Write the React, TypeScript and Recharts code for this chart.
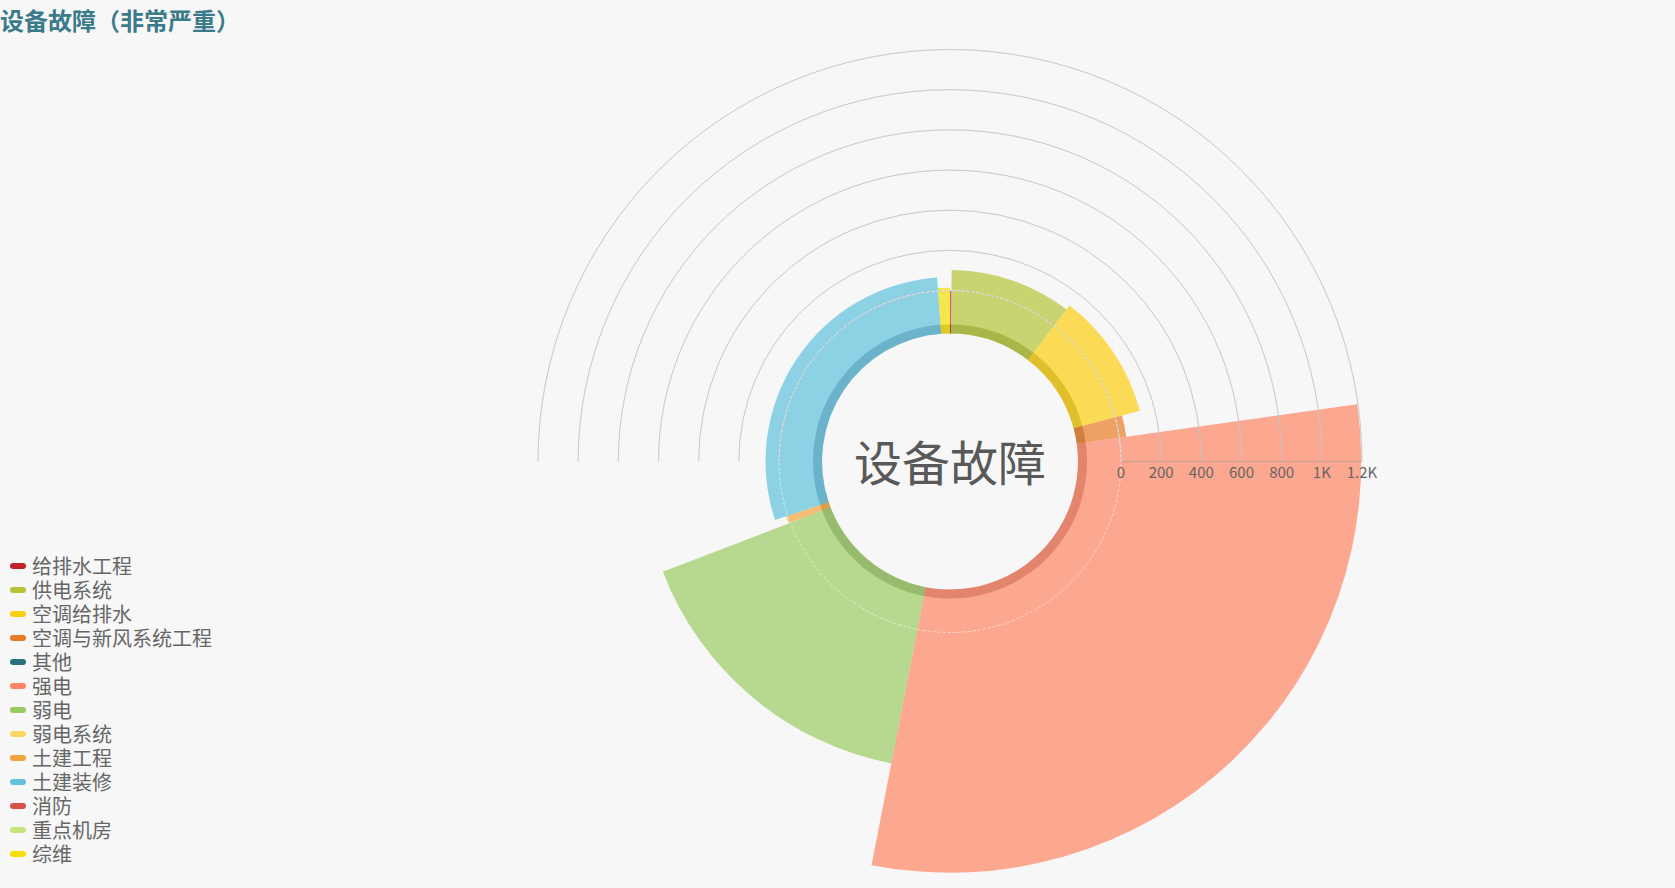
import { PieChart, Pie, Cell, Sector, PolarRadiusAxis } from "recharts";

const categories = [
  "给排水工程",
  "供电系统",
  "空调给排水",
  "空调与新风系统工程",
  "其他",
  "强电",
  "弱电",
  "弱电系统",
  "土建工程",
  "土建装修",
  "消防",
  "重点机房",
  "综维",
];
// angle share of each slice
const counts = [1, 74, 75, 14, 0, 218, 116, 0, 5, 209, 0, 0, 8];
// radial value of each slice (read against the 0 - 1.2K axis)
const levels = [2, 102, 127, 35, 0, 1196, 680, 0, 8, 67, 0, 0, 14];
const colors = [
  "#C1232B", "#B5C334", "#FCCE10", "#E87C25", "#27727B", "#FE8463", "#9BCA63",
  "#FAD860", "#F3A43B", "#60C0DD", "#D7504B", "#C6E579", "#F4E001",
];
const radiusTicks = [0, 200, 400, 600, 800, 1000, 1200];
const tickLabels = ["0", "200", "400", "600", "800", "1K", "1.2K"];

const data = categories.map((name, i) => ({ name, count: counts[i], level: levels[i] }));
const arcData = [{ v: 1 }];

const W = 1675;
const H = 888;
const CX = 950;
const CY = 461.5;
const R_HOLE = 128;
const R_RING = 137;
const R_ZERO = 171;
const R_MAX = 412;
const AXIS_MAX = 1200;
const FONT = "'Noto Sans CJK SC', 'Noto Sans', sans-serif";

const toRadius = (v: number) => R_ZERO + (v / AXIS_MAX) * (R_MAX - R_ZERO);

const RoseSector = (props: any) => {
  const lvl = props.payload?.level ?? props.level ?? 0;
  return <Sector {...props} outerRadius={toRadius(lvl)} />;
};

const AxisTick = (props: any) => {
  const { x, y, payload } = props;
  const idx = radiusTicks.indexOf(payload.value);
  return (
    <text x={x} y={y + 16} textAnchor="middle" fill="#666" fontSize={15} fontFamily={FONT}>
      {idx >= 0 ? tickLabels[idx] : payload.value}
    </text>
  );
};

export default function App() {
  return (
    <div
      style={{
        position: "absolute",
        left: 0,
        top: 0,
        width: W,
        height: H,
        background: "#f7f7f7",
        fontFamily: FONT,
        overflow: "hidden",
      }}
    >
      <div
        style={{
          position: "absolute",
          left: 0,
          top: 0,
          lineHeight: "40px",
          fontSize: 24,
          fontWeight: "bold",
          color: "#3b7b89",
          whiteSpace: "nowrap",
        }}
      >
        设备故障（非常严重）
      </div>

      <PieChart
        width={W}
        height={H}
        margin={{ top: 0, right: 0, bottom: 0, left: 0 }}
        cx={CX}
        cy={CY}
        innerRadius={R_ZERO}
        outerRadius={R_MAX}
      >
        {/* rose slices: angle from count, radius from level */}
        <Pie
          data={data}
          dataKey="count"
          nameKey="name"
          cx={CX}
          cy={CY}
          startAngle={90}
          endAngle={-270}
          innerRadius={R_HOLE}
          outerRadius={R_MAX}
          stroke="none"
          shape={RoseSector}
          activeShape={RoseSector}
          inactiveShape={RoseSector}
          isAnimationActive={false}
        >
          {data.map((d, i) => (
            <Cell key={d.name} fill={colors[i]} fillOpacity={0.7} />
          ))}
        </Pie>
        {/* inner darker ring */}
        <Pie
          data={data}
          dataKey="count"
          nameKey="name"
          cx={CX}
          cy={CY}
          startAngle={90}
          endAngle={-270}
          innerRadius={R_HOLE}
          outerRadius={R_RING}
          stroke="none"
          legendType="none"
          isAnimationActive={false}
        >
          {data.map((d, i) => (
            <Cell key={d.name} fill={colors[i]} fillOpacity={0.5} />
          ))}
        </Pie>
        <Pie
          data={data}
          dataKey="count"
          nameKey="name"
          cx={CX}
          cy={CY}
          startAngle={90}
          endAngle={-270}
          innerRadius={R_HOLE}
          outerRadius={R_RING}
          stroke="none"
          fill="#000"
          fillOpacity={0.1}
          legendType="none"
          isAnimationActive={false}
        />
        {radiusTicks.map((t) => (
          <Pie
            key={"grid" + t}
            data={arcData}
            dataKey="v"
            cx={CX}
            cy={CY}
            startAngle={180}
            endAngle={0}
            innerRadius={toRadius(t)}
            outerRadius={toRadius(t)}
            fill="none"
            stroke="#c4c4c4"
            strokeOpacity={0.6}
            strokeWidth={1}
            legendType="none"
            isAnimationActive={false}
          />
        ))}
        <Pie
          data={arcData}
          dataKey="v"
          cx={CX}
          cy={CY}
          startAngle={180}
          endAngle={-180}
          innerRadius={R_ZERO}
          outerRadius={R_ZERO}
          fill="none"
          stroke="#fff"
          strokeOpacity={0.3}
          strokeDasharray="3 2"
          legendType="none"
          isAnimationActive={false}
        />
        <PolarRadiusAxis
          angle={0}
          type="number"
          domain={[0, AXIS_MAX]}
          tickCount={7}
          axisLine={{ stroke: "#999", strokeOpacity: 0.5 }}
          tickLine={{ stroke: "#999", strokeOpacity: 0.5 }}
          tick={AxisTick}
        />
      </PieChart>

      <div
        style={{
          position: "absolute",
          left: CX - 200,
          top: CY - 44,
          width: 400,
          height: 84,
          lineHeight: "84px",
          textAlign: "center",
          fontSize: 48,
          color: "#595959",
          pointerEvents: "none",
        }}
      >
        设备故障
      </div>

      <div style={{ position: "absolute", left: 10, top: 554 }}>
        {categories.map((c, i) => (
          <div key={c} style={{ display: "flex", alignItems: "center", height: 24 }}>
            <span
              style={{
                display: "inline-block",
                width: 16,
                height: 6,
                borderRadius: 3,
                background: colors[i],
                marginRight: 6,
              }}
            />
            <span style={{ fontSize: 20, lineHeight: "24px", color: "#666", whiteSpace: "nowrap" }}>{c}</span>
          </div>
        ))}
      </div>
    </div>
  );
}
